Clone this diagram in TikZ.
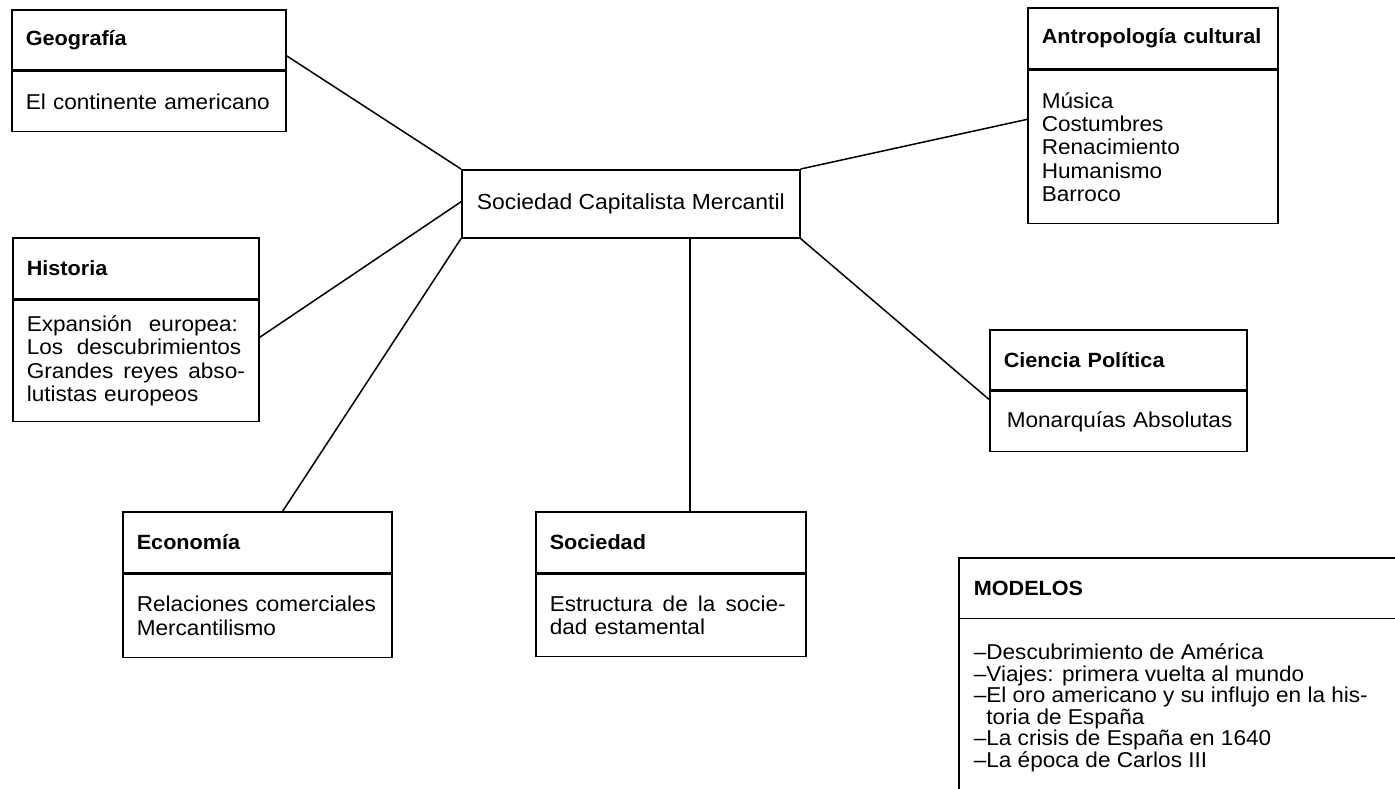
\documentclass[tikz,border=0pt]{standalone}
\usepackage{fontspec}
\setmainfont{Liberation Sans}[FakeStretch=1.05]
\newcommand{\jline}[2]{\makebox[#1][l]{#2}}
\newcommand{\gap}{\hspace{0pt plus 1fil}}
\begin{document}
\begin{tikzpicture}[x=1pt,y=-1pt,line width=1.6pt,
  part/.style={draw,anchor=north west,inner xsep=14pt,inner ysep=0pt,align=left,
    font=\fontsize{21.5}{23.3}\selectfont},
  head/.style={part,font=\fontsize{20.6}{23}\selectfont\bfseries},
  link/.style={line width=1.5pt}]
\useasboundingbox (0,0) rectangle (1395,789);

% central
\node[draw,anchor=north west,inner sep=0pt,minimum width=338pt,minimum height=68pt,
  font=\fontsize{21.8}{23.3}\selectfont] (cen) at (461,169) {Sociedad Capitalista Mercantil};

% Geografia
\node[head,text width=246pt,minimum width=274pt,minimum height=60pt] (geoH) at (11,9) {Geografía};
\node[part,text width=246pt,minimum width=274pt,minimum height=60pt] (geoB) at (geoH.south west) {\mbox{El continente americano}};

% Historia
\node[head,text width=218pt,minimum width=246pt,minimum height=61pt] (hisH) at (12,237) {Historia};
\node[part,text width=218pt,minimum width=246pt,minimum height=121pt] (hisB) at (hisH.south west)
  {\jline{228pt}{Expansión\gap europea:}\\\jline{228pt}{Los\gap descubrimientos}\\\jline{228pt}{Grandes\gap reyes\gap abso-}\\\mbox{lutistas europeos}};

% Economia
\node[head,text width=241pt,minimum width=269pt,minimum height=61pt] (ecoH) at (122,511) {Economía};
\node[part,text width=241pt,minimum width=269pt,minimum height=83pt] (ecoB) at (ecoH.south west)
  {\mbox{Relaciones comerciales}\\Mercantilismo};

% Sociedad
\node[head,text width=242pt,minimum width=270pt,minimum height=61pt] (socH) at (535,511) {Sociedad};
\node[part,text width=242pt,minimum width=270pt,minimum height=82pt] (socB) at (socH.south west)
  {\jline{246pt}{Estructura\gap de\gap la\gap socie-}\\\mbox{dad estamental}};

% Antropologia
\node[head,text width=222pt,minimum width=250pt,minimum height=61pt] (antH) at (1027,7) {\mbox{Antropología cultural}};
\node[part,text width=222pt,minimum width=250pt,minimum height=153pt] (antB) at (antH.south west)
  {Música\\Costumbres\\Renacimiento\\Humanismo\\Barroco};

% Ciencia Politica
\node[head,text width=229pt,minimum width=257pt,minimum height=60pt] (cieH) at (989,329) {\mbox{Ciencia Política}};
\node[part,minimum width=257pt,minimum height=60pt,inner xsep=17pt,text width=223pt] (cieB) at (cieH.south west) {\mbox{Monarquías Absolutas}};

% MODELOS (open box)
\node[anchor=north west,inner xsep=14pt,inner ysep=0pt,minimum width=450pt,minimum height=59pt,
  text width=422pt,align=left,font=\fontsize{20.6}{23}\selectfont\bfseries] (modH) at (959,558) {MODELOS};
\node[anchor=west,inner sep=0pt,align=left,font=\fontsize{21.5}{21.5}\selectfont] (modT) at (973,708)
  {–Descubrimiento de América\\–Viajes: primera vuelta al mundo\\–El oro americano y su influjo en la his-\\\phantom{–}toria de España\\–La crisis de España en 1640\\–La época de Carlos III};
\coordinate (modEnd) at (959,795);
\draw (modH.north east) -- (modH.north west) -- (modEnd);
\draw (modH.south west) -- (modH.south east);

% connectors
\draw[link] ([yshift=-16pt]geoH.east) -- (cen.north west);
\draw[link] ([yshift=23.5pt]hisB.east) -- ([yshift=2pt]cen.west);
\draw[link] ([xshift=25.5pt]ecoH.north) -- (cen.south west);
\draw[link] ([xshift=19pt]socH.north) -- ([xshift=19pt]socH.north |- cen.south);
\draw[link] (cen.north east) -- ([yshift=27.5pt]antB.west);
\draw[link] (cen.south east) -- ([yshift=22pt]cieB.west);
\end{tikzpicture}
\end{document}
